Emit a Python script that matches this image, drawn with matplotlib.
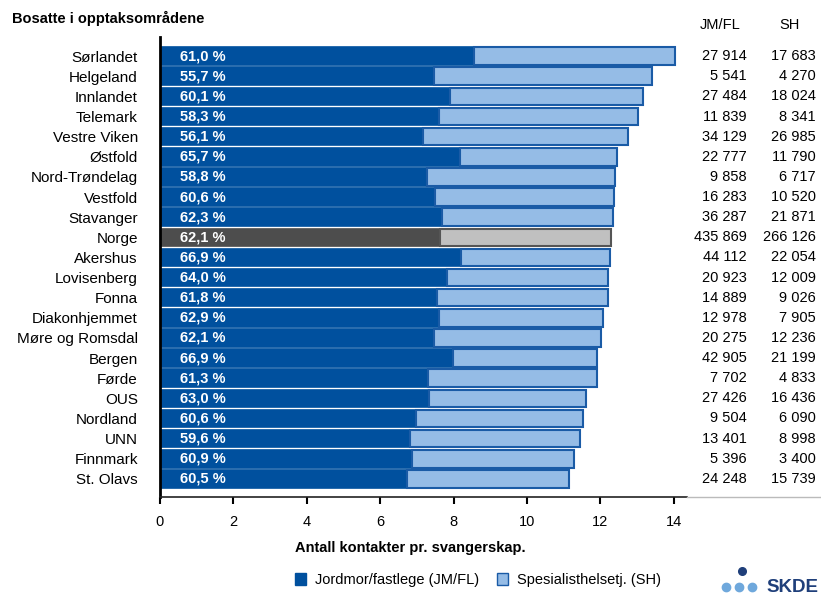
import numpy as np
import matplotlib
matplotlib.use("Agg")
import matplotlib.pyplot as plt
from matplotlib.lines import Line2D
from matplotlib.patches import Patch
from matplotlib.transforms import blended_transform_factory

plt.rcParams['font.family'] = ['Liberation Sans', 'DejaVu Sans']

regions = ["Sørlandet", "Helgeland", "Innlandet", "Telemark", "Vestre Viken", "Østfold",
           "Nord-Trøndelag", "Vestfold", "Stavanger", "Norge", "Akershus", "Lovisenberg",
           "Fonna", "Diakonhjemmet", "Møre og Romsdal", "Bergen", "Førde", "OUS",
           "Nordland", "UNN", "Finnmark", "St. Olavs"]
# total contacts per pregnancy
total = [14.02, 13.40, 13.16, 13.03, 12.76, 12.46, 12.39, 12.37, 12.33, 12.29, 12.25,
         12.22, 12.21, 12.08, 12.01, 11.92, 11.91, 11.62, 11.52, 11.44, 11.29, 11.14]
# share JM/FL in percent
pct_jm = [61.0, 55.7, 60.1, 58.3, 56.1, 65.7, 58.8, 60.6, 62.3, 62.1, 66.9,
          64.0, 61.8, 62.9, 62.1, 66.9, 61.3, 63.0, 60.6, 59.6, 60.9, 60.5]
jm_count = [27914, 5541, 27484, 11839, 34129, 22777, 9858, 16283, 36287, 435869, 44112,
            20923, 14889, 12978, 20275, 42905, 7702, 27426, 9504, 13401, 5396, 24248]
sh_count = [17683, 4270, 18024, 8341, 26985, 11790, 6717, 10520, 21871, 266126, 22054,
            12009, 9026, 7905, 12236, 21199, 4833, 16436, 6090, 8998, 3400, 15739]

dark = "#00509E"
light = "#95BCE6"
edge = "#1A5BA6"

total = np.array(total)
jm = total * np.array(pct_jm) / 100
sh = total - jm
y = np.arange(len(regions))

fig = plt.figure(figsize=(8.21, 5.94), dpi=100)
ax = fig.add_axes([160 / 821, 1 - 497 / 594, 527 / 821, 460 / 594])

for i in y:
    if regions[i] == "Norge":
        c1, c2, ec = "#4D4D4D", "#C0C0C0", "#555555"
    else:
        c1, c2, ec = dark, light, edge
    ax.barh(i, jm[i], height=0.87, color=c1, edgecolor=c1, linewidth=1.2)
    ax.barh(i, sh[i], left=jm[i], height=0.87, color=c2, edgecolor=ec, linewidth=1.5)
    ax.text(0.55, i, f"{pct_jm[i]:.1f} %".replace(".", ","), color="white",
            fontsize=10.5, fontweight="bold", va="center", ha="left")

ax.set_xlim(0, 14.36)
ax.set_ylim(21.9, -0.95)
ax.set_xticks(range(0, 15, 2))
ax.set_yticks(y)
ax.set_yticklabels(regions)
ax.tick_params(axis="y", length=0, pad=16, labelsize=11)
ax.tick_params(axis="x", length=5, width=1.5, direction="out", labelsize=10.5, pad=8)
for s in ["top", "right"]:
    ax.spines[s].set_visible(False)
ax.spines["left"].set_linewidth(2)
ax.spines["bottom"].set_linewidth(1.2)
ax.spines["bottom"].set_color("#222222")

# columns with counts
tr = blended_transform_factory(fig.transFigure, ax.transData)
fmt = lambda v: f"{v:,}".replace(",", " ")
for i in y:
    ax.text(747 / 821, i, fmt(jm_count[i]), transform=tr, ha="right", va="center",
            fontsize=10.5, clip_on=False)
    ax.text(816 / 821, i, fmt(sh_count[i]), transform=tr, ha="right", va="center",
            fontsize=10.5, clip_on=False)
fig.text(720 / 821, 1 - 25 / 594, "JM/FL", ha="center", va="center", fontsize=10.5)
fig.text(790 / 821, 1 - 25 / 594, "SH", ha="center", va="center", fontsize=10.5)

fig.text(12 / 821, 1 - 18 / 594, "Bosatte i opptaksområdene", ha="left", va="center",
         fontsize=10.5, fontweight="bold")
fig.text(410 / 821, 1 - 548 / 594, "Antall kontakter pr. svangerskap.", ha="center",
         va="center", fontsize=10.5, fontweight="bold")

fig.add_artist(Line2D([687 / 821, 1], [1 - 497 / 594] * 2, color="#BBBBBB", lw=1))

handles = [Patch(facecolor=dark, edgecolor=dark), Patch(facecolor=light, edgecolor=edge)]
fig.legend(handles, ["Jordmor/fastlege (JM/FL)", "Spesialisthelsetj. (SH)"],
           loc="center", bbox_to_anchor=(478 / 821, 1 - 580 / 594), ncol=2, frameon=False,
           fontsize=10.5, handlelength=0.8, handleheight=0.8, handletextpad=0.6,
           columnspacing=1.2)

# SKDE logo
fig.add_artist(Line2D([742 / 821], [1 - 571 / 594], marker="o", ms=5.5, color="#1F3F7A", lw=0))
fig.add_artist(Line2D([726 / 821, 739 / 821, 752 / 821], [1 - 587 / 594] * 3, marker="o",
                      ms=6, color="#6FA8DC", lw=0))
fig.text(766 / 821, 1 - 587 / 594, "SKDE", ha="left", va="center", fontsize=13.5,
         fontweight="bold", color="#1F3F7A")

fig.savefig("out.png", dpi=100)
